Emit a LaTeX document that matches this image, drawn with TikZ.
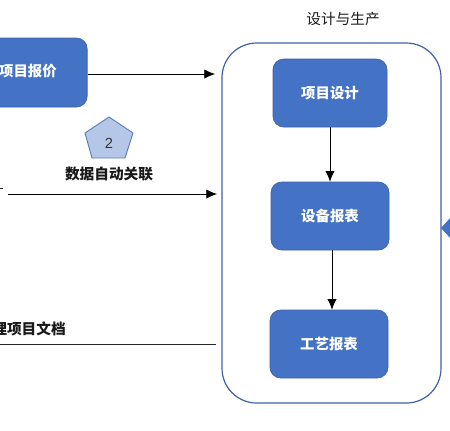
\documentclass[tikz,border=0pt]{standalone}
\usepackage{fontspec}
\setmainfont{Liberation Sans}
\newfontfamily\cjk{Noto Sans CJK SC}
\usetikzlibrary{arrows.meta}
\definecolor{boxblue}{HTML}{4472C4}
\definecolor{boxedge}{HTML}{3F62A8}
\definecolor{penta}{HTML}{B4C7E7}
\definecolor{pentaedge}{HTML}{5B7DB8}
\tikzset{
  procbox/.style={draw=boxedge,line width=0.5pt,fill=boxblue,rounded corners=8pt,text=white,
    font=\cjk\fontsize{10.8pt}{13pt}\selectfont\bfseries,inner sep=0pt,anchor=center},
  flow/.style={draw=black,line width=0.6pt,-{Latex[length=8pt,width=7pt]}},
  plainline/.style={draw=black!85,line width=0.6pt},
  lbl/.style={font=\cjk\fontsize{11pt}{13pt}\selectfont,text=black!90,inner sep=0pt},
  blbl/.style={font=\cjk\fontsize{11pt}{13pt}\selectfont\bfseries,text=black!90,inner sep=0pt}
}
\begin{document}
\begin{tikzpicture}[x=0.75pt,y=-0.75pt]
\useasboundingbox (0,0) rectangle (450,430);
\clip (0,0) rectangle (450,430);
\node[draw=boxedge,line width=0.9pt,fill=white,rounded corners=26pt,minimum width=164.25pt,minimum height=270pt,inner sep=0pt] (frame) at (331.5,223) {};
\node[lbl] (title) at (343,19) {设计与生产};
\node[procbox,minimum width=85.5pt,minimum height=51pt] (design) at (330,93) {\raisebox{1.5pt}{项目设计}};
\node[procbox,minimum width=88.5pt,minimum height=51pt] (equip) at (330,216) {\raisebox{1.5pt}{设备报表}};
\node[procbox,minimum width=88.5pt,minimum height=51pt] (craft) at (329,344) {\raisebox{1.5pt}{工艺报表}};
\node[procbox,minimum width=94pt,minimum height=51.75pt] (quote) at (24.5,72.5) {};
\node[font=\cjk\fontsize{10.8pt}{13pt}\selectfont\bfseries,text=white,inner sep=0pt] (quotetxt) at (28,71) {项目报价};
\draw[draw=pentaedge,line width=0.7pt,fill=penta,line join=round] (109,117) -- (133,133) -- (125,158) -- (92,158) -- (85,133) -- cycle;
\node[font=\fontsize{11pt}{13pt}\selectfont,text=black!80,inner sep=0pt] (pentnum) at (109,143) {2};
\node[blbl] (link) at (109,174) {数据自动关联};
\node[blbl,anchor=east] (docs) at (66,329) {理项目文档};
\coordinate (a1) at (215,74);
\coordinate (a2s) at (8,194);
\coordinate (a2e) at (217,194);
\coordinate (l1s) at (0,344);
\coordinate (l1e) at (216,344);
\coordinate (d1s) at (0,188);
\coordinate (d1e) at (3,188);
\draw[flow] (quote.east |- a1) -- (a1);
\draw[flow] (a2s) -- (a2e);
\draw[plainline] (l1s) -- (l1e);
\draw[plainline] (d1s) -- (d1e);
\draw[flow] (design.south) -- (equip.north);
\draw[flow] ([xshift=1.5pt]equip.south) -- ([xshift=2.25pt]craft.north);
\fill[boxblue] (441,228) -- (451,217) -- (451,239) -- cycle;
\end{tikzpicture}
\end{document}
